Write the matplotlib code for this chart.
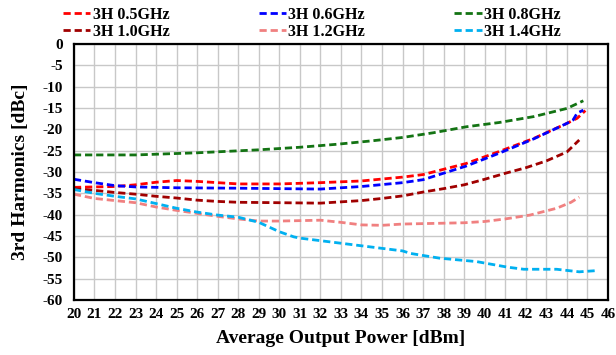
import numpy as np
import matplotlib.pyplot as plt

plt.rcParams['font.family'] = ['Liberation Serif', 'DejaVu Serif']
plt.rcParams['font.weight'] = 'bold'
plt.rcParams['axes.unicode_minus'] = False

# 3rd harmonic level vs. average output power for each carrier frequency
p05 = [20, 21, 22, 23, 24, 25, 26, 28, 30, 32, 34, 36, 37, 39.1, 40.7, 42.4, 44, 44.5, 44.9]
h05 = [-33.6, -33.5, -33.4, -33.0, -32.4, -32.0, -32.2, -32.8, -32.8, -32.5, -32.1, -31.2, -30.6, -28.0, -25.2, -22.1, -18.6, -17.4, -15.6]

p06 = [20, 21, 22, 23, 25, 28, 30, 32, 34, 36, 37, 39.1, 40.7, 42.4, 44, 44.3, 44.5, 44.8]
h06 = [-31.7, -32.5, -33.2, -33.5, -33.7, -33.8, -33.9, -34.0, -33.4, -32.5, -31.8, -28.6, -25.6, -22.2, -18.6, -17.8, -16.2, -15.5]

p08 = [20, 23, 26, 29, 31, 32.8, 34.5, 36, 37.5, 39.1, 40.7, 42.4, 44, 44.8]
h08 = [-26.0, -26.0, -25.5, -24.8, -24.2, -23.5, -22.7, -21.9, -20.8, -19.4, -18.4, -17.0, -15.1, -13.3]

p10 = [20, 21, 22, 23, 24, 25, 26, 27, 28, 30, 32, 34, 35, 36, 37, 38, 39, 40, 41, 42, 43, 44, 44.6]
h10 = [-33.9, -34.3, -34.8, -35.2, -35.7, -36.1, -36.6, -36.9, -37.1, -37.2, -37.3, -36.7, -36.2, -35.6, -34.7, -33.9, -33.0, -31.7, -30.3, -29.0, -27.4, -25.3, -22.5]

p12 = [20, 21, 22, 23, 24, 25, 26, 27, 28, 29, 30, 31, 32, 33, 34, 35, 36, 37, 39, 40, 41, 42.2, 43.5, 44.2, 44.6]
h12 = [-35.2, -36.2, -36.7, -37.2, -38.2, -39.0, -39.7, -40.4, -41.0, -41.5, -41.5, -41.4, -41.3, -41.8, -42.4, -42.5, -42.2, -42.1, -41.9, -41.6, -41.0, -40.1, -38.5, -37.1, -35.9]

p14 = [20, 21, 22, 23, 24, 25, 26, 27, 28, 29, 30, 30.7, 31, 32, 34, 36, 36.4, 37.8, 39.6, 41.1, 41.9, 43.5, 44.6, 45.5]
h14 = [-34.1, -35.0, -35.7, -36.3, -37.4, -38.5, -39.4, -40.1, -40.6, -41.8, -44.0, -45.2, -45.5, -46.1, -47.3, -48.5, -49.1, -50.2, -51.0, -52.3, -52.8, -52.8, -53.4, -53.1]

series = [
    (p05, h05, '3H 0.5GHz', '#ff0000'),
    (p06, h06, '3H 0.6GHz', '#0000ff'),
    (p08, h08, '3H 0.8GHz', '#137313'),
    (p10, h10, '3H 1.0GHz', '#a00000'),
    (p12, h12, '3H 1.2GHz', '#f08080'),
    (p14, h14, '3H 1.4GHz', '#00b0f0'),
]

fig = plt.figure(figsize=(6.16, 3.55), dpi=100)
ax = fig.add_axes([0.120, 0.155, 0.867, 0.721])

for x, y, name, c in series:
    ax.plot(x, y, color=c, lw=2.0, dashes=(2.6, 1.4), label=name)

ax.set_xlim(20, 46)
ax.set_ylim(-60, 0)
ax.set_xticks(np.arange(20, 47, 1))
ax.set_yticks(np.arange(-60, 1, 5))
ax.grid(True, color='#c8c8c8', lw=1.0)
ax.set_axisbelow(True)
ax.tick_params(length=0, labelsize=11)
ax.tick_params(axis='x', pad=6)
ax.tick_params(axis='y', pad=8)
for s in ax.spines.values():
    s.set_linewidth(1.6)

ax.set_xlabel('Average Output Power [dBm]', fontsize=14, fontweight='bold', labelpad=6)
ax.set_ylabel('3rd Harmonics [dBc]', fontsize=14, fontweight='bold', labelpad=10)

# legend in two rows above the plot, no frame
h, l = ax.get_legend_handles_labels()
order = [0, 3, 1, 4, 2, 5]
fig.legend([h[i] for i in order], [l[i] for i in order], ncol=3,
           loc='upper left', bbox_to_anchor=(63 / 616, 1 - 7 / 355), frameon=False,
           borderpad=0, borderaxespad=0,
           fontsize=11.5, handlelength=1.7, handletextpad=0.15,
           columnspacing=5.6, labelspacing=0.05)

fig.savefig('out.png', dpi=100)
